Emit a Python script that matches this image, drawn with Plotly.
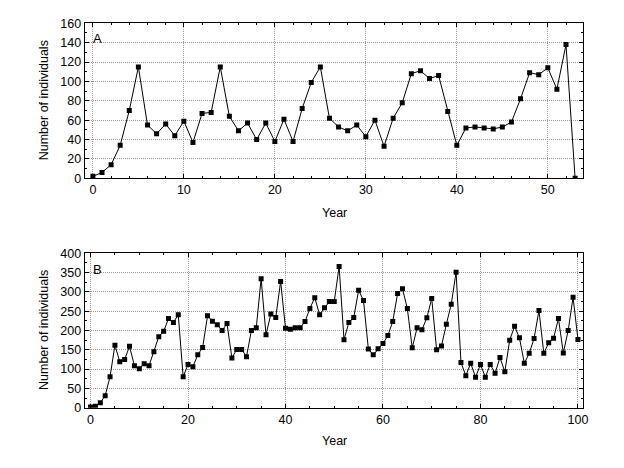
import plotly.graph_objects as go

years_a = list(range(0, 54))
counts_a = [2, 6, 14, 34, 70, 115, 55, 46, 56, 44, 59, 37, 67, 68, 115, 64, 49, 57, 40,
            57, 38, 61, 38, 72, 99, 115, 62, 53, 49, 55, 43, 60, 33, 62, 78, 108, 111, 103,
            106, 69, 34, 52, 53, 52, 51, 53, 58, 82, 109, 107, 114, 92, 138, 0]

years_b = list(range(0, 101))
counts_b = [2, 4, 13, 31, 80, 162, 119, 125, 159, 109, 101, 114, 109, 145, 184, 198, 231, 221, 241,
            80, 112, 106, 137, 156, 238, 224, 215, 200, 218, 129, 151, 151, 132, 200, 207,
            334, 189, 243, 234, 327, 206, 203, 207, 207, 223, 257, 285, 241, 259, 275, 275,
            366, 176, 221, 234, 304, 278, 152, 137, 153, 166, 187, 223, 296, 308, 257, 155,
            207, 202, 233, 283, 150, 160, 216, 268, 351, 117, 83, 115, 79, 112, 79, 112, 89,
            130, 93, 175, 211, 181, 115, 141, 179, 252, 141, 168, 180, 231, 142, 200, 286, 177]

ticks_a_x = [0, 10, 20, 30, 40, 50]
ticks_a_y = [0, 20, 40, 60, 80, 100, 120, 140, 160]
ticks_b_x = [0, 20, 40, 60, 80, 100]
ticks_b_y = [0, 50, 100, 150, 200, 250, 300, 350, 400]

FONT = "Liberation Sans, Arial, sans-serif"
OFF = 8  # page body margin
W, H = 624 - OFF, 468 - OFF
L, R = 84.7 - OFF, 583.3 - OFF
TA, BA = 23.3 - OFF, 178.3 - OFF
TB, BB = 253.3 - OFF, 407.7 - OFF

fig = go.Figure()
line_style = dict(color="black", width=1)
marker_style = dict(symbol="square", size=5, color="black")

fig.add_trace(go.Scatter(x=years_a, y=counts_a, mode="lines+markers", line=line_style,
                         marker=marker_style, xaxis="x", yaxis="y", showlegend=False))
fig.add_trace(go.Scatter(x=years_b, y=counts_b, mode="lines+markers", line=line_style,
                         marker=marker_style, xaxis="x2", yaxis="y2", showlegend=False))

xdom = [L / W, R / W]
ax_common = dict(
    showline=True, linecolor="black", linewidth=1, mirror="allticks",
    ticks="inside", ticklen=4, tickcolor="black", automargin=False,
    showgrid=True, gridcolor="#999999", griddash="1px,1px", gridwidth=1,
    zeroline=False, tickfont=dict(family=FONT, size=12.5, color="black"),
)

fig.update_layout(
    width=W, height=H,
    margin=dict(l=0, r=0, t=0, b=0),
    paper_bgcolor="white", plot_bgcolor="white",
    font=dict(family=FONT, size=12, color="black"),
    xaxis=dict(domain=xdom, anchor="y", range=[-0.9, 53.9], tickvals=ticks_a_x,
               minor=dict(dtick=2, ticks="inside", ticklen=2, tickcolor="black", showgrid=False),
               **ax_common),
    yaxis=dict(domain=[1 - BA / H, 1 - TA / H], anchor="x", range=[0, 160],
               tickvals=ticks_a_y,
               minor=dict(dtick=10, ticks="inside", ticklen=2, tickcolor="black", showgrid=False),
               **ax_common),
    xaxis2=dict(domain=xdom, anchor="y2", range=[-1.2, 101.1], tickvals=ticks_b_x,
                minor=dict(dtick=5, ticks="inside", ticklen=2, tickcolor="black", showgrid=False),
                **ax_common),
    yaxis2=dict(domain=[1 - BB / H, 1 - TB / H], anchor="x2", range=[0, 400],
                tickvals=ticks_b_y,
                minor=dict(dtick=25, ticks="inside", ticklen=2, tickcolor="black", showgrid=False),
                **ax_common),
)

def title_ann(text, x_px, y_px, angle=0):
    return dict(text=text, xref="paper", yref="paper", x=(x_px - OFF) / W,
                y=1 - (y_px - OFF) / H,
                xanchor="center", yanchor="middle", showarrow=False, textangle=angle,
                font=dict(family=FONT, size=12.5, color="black"))

fig.update_layout(annotations=[
    title_ann("Year", (84.7 + 583.3) / 2, 213),
    title_ann("Year", (84.7 + 583.3) / 2, 441),
    title_ann("Number of individuals", 43.5, (23.3 + 178.3) / 2, -90),
    title_ann("Number of individuals", 43.5, (253.3 + 407.7) / 2, -90),
    dict(text="A", xref="x domain", yref="y domain", x=0.013, y=0.9, xanchor="left",
         yanchor="middle", showarrow=False, font=dict(family=FONT, size=13, color="black")),
    dict(text="B", xref="x2 domain", yref="y2 domain", x=0.013, y=0.892, xanchor="left",
         yanchor="middle", showarrow=False, font=dict(family=FONT, size=13, color="black")),
])

fig.write_html("out.html")
